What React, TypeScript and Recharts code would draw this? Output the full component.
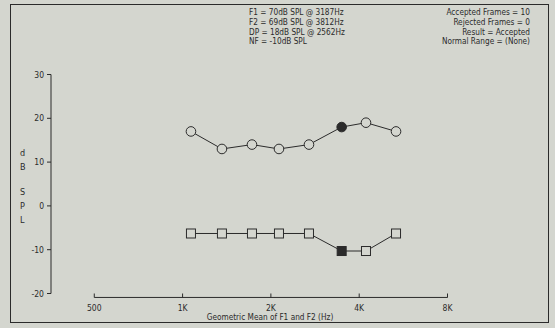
import React from "react";
import { ComposedChart, Line, XAxis, YAxis, ReferenceLine } from "recharts";

// DP-gram: distortion product level and noise floor vs geometric mean of F1/F2
const freqs = [1068, 1362, 1724, 2131, 2697, 3486, 4219, 5341];
const dpLevels = [17, 13, 14, 13, 14, 18, 19, 17];
const noiseLevels = [-6.3, -6.3, -6.3, -6.3, -6.3, -10.3, -10.3, -6.3];
const selected = [false, false, false, false, false, true, false, false];

const xTicks = [500, 1000, 2000, 4000, 8000];
const xTickLabels = ["500", "1K", "2K", "4K", "8K"];
const yTicks = [-20, -10, 0, 10, 20, 30];

const stimulusLines = [
  "F1 = 70dB SPL @ 3187Hz",
  "F2 = 69dB SPL @ 3812Hz",
  "DP = 18dB SPL @ 2562Hz",
  "NF = -10dB SPL",
];
const statusLines = [
  "Accepted Frames = 10",
  "Rejected Frames = 0",
  "Result = Accepted",
  "Normal Range = (None)",
];
const yLabelLetters = ["d", "B", "S", "P", "L"];
const xLabel = "Geometric Mean of F1 and F2 (Hz)";

const data = freqs.map((f, i) => ({
  f,
  dp: dpLevels[i],
  nf: noiseLevels[i],
  sel: selected[i],
}));

const BG = "#d4d6cf";
const INK = "#2b2b2b";
const FONT = "'Liberation Sans Narrow', 'DejaVu Sans Condensed', Arial, sans-serif";

const CircleDot = (p: any) => {
  const { cx, cy, payload, index } = p;
  if (cx == null || cy == null) return null;
  return (
    <circle
      key={"c" + index}
      cx={cx}
      cy={cy}
      r={4.8}
      fill={payload.sel ? INK : BG}
      stroke={INK}
      strokeWidth={1}
    />
  );
};

const SquareDot = (p: any) => {
  const { cx, cy, payload, index } = p;
  if (cx == null || cy == null) return null;
  return (
    <rect
      key={"s" + index}
      x={cx - 4.5}
      y={cy - 4.5}
      width={9}
      height={9}
      fill={payload.sel ? INK : BG}
      stroke={INK}
      strokeWidth={1}
    />
  );
};

const XTick = (p: any) => {
  const { x, y, payload } = p;
  const i = xTicks.indexOf(payload.value);
  return (
    <g>
      <line x1={x} x2={x} y1={y + 4} y2={y} stroke={INK} strokeWidth={1} />
      <text x={x} y={y + 17} textAnchor="middle" fontSize={8.5} fill={INK} fontFamily={FONT}>
        {xTickLabels[i]}
      </text>
    </g>
  );
};

export default function App() {
  const textStyle: React.CSSProperties = {
    position: "absolute",
    fontFamily: FONT,
    fontSize: 8.2,
    lineHeight: "9.8px",
    color: INK,
    whiteSpace: "nowrap",
  };
  const letterTops = [149, 163, 188, 202, 216];

  return (
    <div style={{ position: "absolute", left: 0, top: 0, width: 555, height: 328, background: BG }}>
      <div
        style={{
          position: "absolute",
          left: 10,
          top: 4,
          width: 539,
          height: 319,
          border: `1.5px solid ${INK}`,
          boxSizing: "border-box",
        }}
      />
      <div style={{ ...textStyle, left: 249, top: 8 }}>
        {stimulusLines.map((t) => (
          <div key={t}>{t}</div>
        ))}
      </div>
      <div style={{ ...textStyle, right: 555 - 530, top: 8, textAlign: "right" }}>
        {statusLines.map((t) => (
          <div key={t}>{t}</div>
        ))}
      </div>
      {yLabelLetters.map((l, i) => (
        <div key={l} style={{ ...textStyle, fontSize: 9, left: 20, top: letterTops[i] }}>
          {l}
        </div>
      ))}
      <div style={{ ...textStyle, left: 0, width: 540, top: 313, textAlign: "center" }}>{xLabel}</div>
      <div style={{ position: "absolute", left: 0, top: 0 }}>
        <ComposedChart
          width={555}
          height={328}
          data={data}
          margin={{ top: 74.5, right: 107.5, bottom: 4.5, left: 0 }}
        >
          <XAxis
            dataKey="f"
            type="number"
            scale="log"
            domain={[356, 8000]}
            allowDataOverflow
            ticks={xTicks}
            axisLine={false}
            tickLine={false}
            tickSize={0}
            tickMargin={0}
            height={30}
            tick={<XTick />}
            interval={0}
          />
          <YAxis
            type="number"
            domain={[-20, 30]}
            ticks={yTicks}
            width={51}
            tickSize={4}
            tickMargin={3}
            interval={0}
            axisLine={{ stroke: INK }}
            tickLine={{ stroke: INK }}
            tick={{ fontSize: 8.5, fill: INK, fontFamily: FONT }}
          />
          <ReferenceLine
            segment={[
              { x: 500, y: -20.9 },
              { x: 8000, y: -20.9 },
            ]}
            stroke={INK}
            strokeWidth={1}
            ifOverflow="visible"
          />
          <Line
            dataKey="dp"
            stroke={INK}
            strokeWidth={1}
            dot={CircleDot}
            activeDot={false}
            isAnimationActive={false}
          />
          <Line
            dataKey="nf"
            stroke={INK}
            strokeWidth={1}
            dot={SquareDot}
            activeDot={false}
            isAnimationActive={false}
          />
        </ComposedChart>
      </div>
    </div>
  );
}
